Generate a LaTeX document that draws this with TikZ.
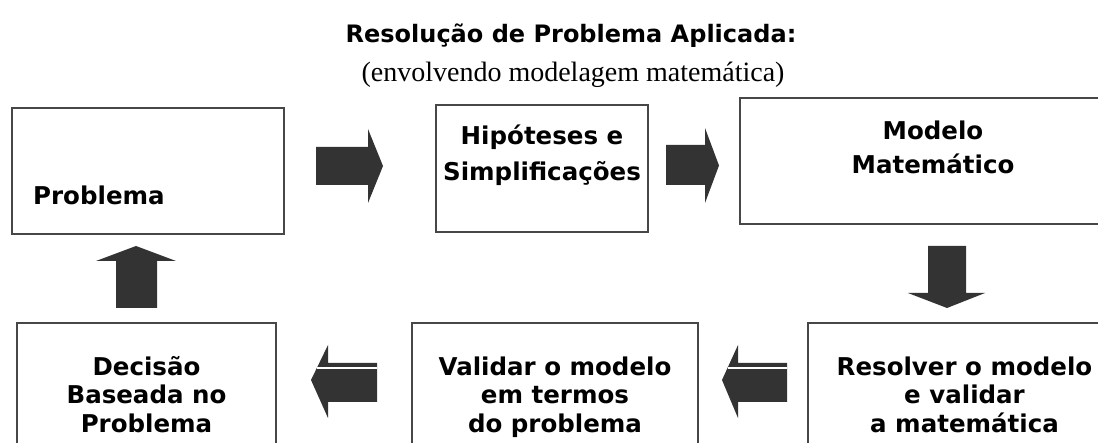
\documentclass[tikz,border=0pt]{standalone}
\usepackage{fontspec}
\setmainfont{DejaVu Sans}
\newfontfamily\tnr{Liberation Serif}
\begin{document}
\begin{tikzpicture}[x=1pt,y=-1pt,
  box/.style={draw=black!72, line width=1.6pt, inner sep=0pt},
  toplbl/.style={font=\bfseries\fontsize{24.5}{36}\selectfont, inner sep=0pt, anchor=base, align=center},
  botlbl/.style={font=\bfseries\fontsize{24.5}{28.5}\selectfont, inner sep=0pt, anchor=base, align=center},
  barrow/.style={fill=black!80, draw=none},
  gap/.style={draw=white, line width=1.2pt}]
\useasboundingbox (0,0) rectangle (1098,443);
\clip (0,0) rectangle (1098,443);
\fill[white] (0,0) rectangle (1098,443);

% title
\node[font=\bfseries\fontsize{24}{29}\selectfont, inner sep=0pt, anchor=base] (title) at (571,43) {Resolução de Problema Aplicada:};
\node[font=\tnr\fontsize{28}{30}\selectfont, inner sep=0pt, anchor=base] (sub) at (573,82) {(envolvendo modelagem matemática)};

% boxes
\node[box, minimum width=272pt, minimum height=126pt] (prob) at (148,171) {};
\node[box, minimum width=212pt, minimum height=127pt] (hip) at (542,168.5) {};
\node[box, minimum width=390pt, minimum height=126pt] (mod) at (935,161) {};
\node[box, minimum width=259pt, minimum height=147pt] (dec) at (146.5,396.5) {};
\node[box, minimum width=286pt, minimum height=147pt] (val) at (555,396.5) {};
\node[box, minimum width=313pt, minimum height=147pt] (res) at (964.5,396.5) {};

% labels (base anchor = baseline of the last line)
\node[toplbl, anchor=base west] (tprob) at (33,205) {Problema};
\node[toplbl] (thip) at (542,181) {Hipóteses e\\Simplificações};
\node[toplbl, font=\bfseries\fontsize{24.5}{34}\selectfont] (tmod) at (933,174) {Modelo\\Matemático};
\node[botlbl] (tdec) at (146.5,432) {Decisão\\Baseada no\\Problema};
\node[botlbl] (tval) at (555,432) {Validar o modelo\\em termos\\do problema};
\node[botlbl] (tres) at (964.5,432) {Resolver o modelo\\e validar\\a matemática};

% block arrows
\fill[barrow] (316,147) -- (368,147) -- (368,129) -- (383,166) -- (368,203) -- (368,185) -- (316,185) -- cycle;
\fill[barrow] (666,145) -- (705,145) -- (705,128) -- (719,165.5) -- (705,203) -- (705,185) -- (666,185) -- cycle;
\fill[barrow] (928,246) -- (966,246) -- (966,293) -- (985,293) -- (947,308) -- (908,293) -- (928,293) -- cycle;
\fill[barrow] (787,363) -- (738,363) -- (738,345) -- (722,380) -- (738,418) -- (738,402) -- (787,402) -- cycle;
\draw[gap] (728,368) -- (787,368);
\fill[barrow] (377,363) -- (328,363) -- (328,345) -- (311,380) -- (328,418) -- (328,402) -- (377,402) -- cycle;
\draw[gap] (317,368) -- (377,368);
\fill[barrow] (116,308) -- (157,308) -- (157,261) -- (176,261) -- (136,246) -- (96,261) -- (116,261) -- cycle;
\end{tikzpicture}
\end{document}
